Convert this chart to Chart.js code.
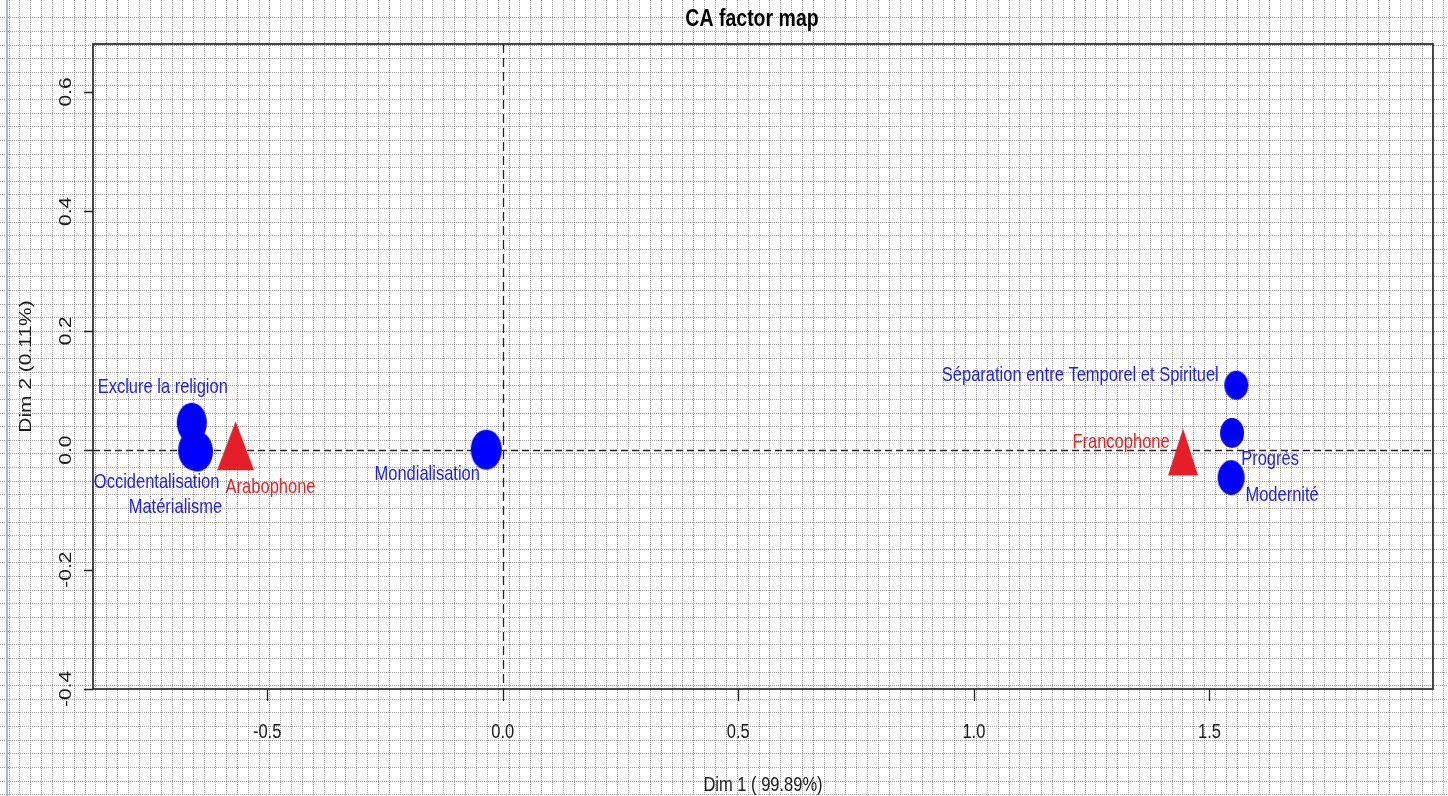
<!DOCTYPE html>
<html>
<head>
<meta charset="utf-8">
<title>CA factor map</title>
<script src="https://cdn.jsdelivr.net/npm/chart.js@4.4.1/dist/chart.umd.min.js"></script>
<style>
  html, body { margin: 0; padding: 0; background: #ffffff; }
  canvas { display: block; }
</style>
</head>
<body>
<canvas id="camap" width="1448" height="796"></canvas>
<script>
// Column profiles (blue circles)
const colNames = ['Exclure la religion', 'Occidentalisation', 'Matérialisme', 'Mondialisation',
                  'Séparation entre Temporel et Spirituel', 'Progrès', 'Modernité'];
const colDim1 = [-0.660, -0.656, -0.648, -0.035, 1.557, 1.548, 1.546];
const colDim2 = [0.046, 0.000, -0.002, 0.001, 0.109, 0.029, -0.046];

// Row profiles (red triangles)
const rowNames = ['Arabophone', 'Francophone'];
const rowDim1 = [-0.567, 1.444];
const rowDim2 = [0.0075, -0.003];

// Axis ticks
const dim1Ticks = [-0.5, 0, 0.5, 1, 1.5];
const dim1TickLabels = ['-0.5', '0.0', '0.5', '1.0', '1.5'];
const dim2Ticks = [-0.4, -0.2, 0, 0.2, 0.4, 0.6];
const dim2TickLabels = ['-0.4', '-0.2', '0.0', '0.2', '0.4', '0.6'];

const titleText = 'CA factor map';
const dim1Title = 'Dim 1 ( 99.89%)';
const dim2Title = 'Dim 2 (0.11%)';

// ---- styling ----
const BLUE = '#0000ff';
const BLUE_TEXT = '#1c1cff';
const RED = '#e61e28';
const RED_TEXT = '#f01e1e';
const SY = 1.27;                 // vertical stretch of glyphs
const FONT = '"Liberation Sans", Arial, sans-serif';

// marker sizes [w, h] in px
const colMarkerSize = [[30, 40], [31, 40], [31, 40], [31, 40], [24, 29], [24, 30], [27, 35]];
const rowMarkerSize = [[37, 49], [30, 47]];
// label anchor offsets from the marker [dx, dy-to-baseline] in px
const colLabelOffset = [[-29, -30], [-37, 38], [-22, 62], [-59, 30], [-156, -4], [38, 32], [51, 23]];
const rowLabelOffset = [[35, 47], [-62, -4]];

function ellipseMarker(w, h, color) {
  const c = document.createElement('canvas');
  c.width = w + 2; c.height = h + 2;
  const g = c.getContext('2d');
  g.fillStyle = color;
  g.beginPath();
  g.ellipse(c.width / 2, c.height / 2, w / 2, h / 2, 0, 0, Math.PI * 2);
  g.fill();
  return c;
}
function triangleMarker(w, h, color) {
  const c = document.createElement('canvas');
  c.width = w + 2; c.height = h + 2;
  const g = c.getContext('2d');
  g.fillStyle = color;
  g.beginPath();
  g.moveTo(c.width / 2, 1);
  g.lineTo(w + 1, h + 1);
  g.lineTo(1, h + 1);
  g.closePath();
  g.fill();
  return c;
}

function stretchedText(ctx, text, x, y, font, color, align, rotate) {
  ctx.save();
  ctx.translate(x, y);
  ctx.scale(1, SY);
  if (rotate) ctx.rotate(-Math.PI / 2);
  ctx.font = font;
  ctx.fillStyle = color;
  ctx.textAlign = align || 'center';
  ctx.textBaseline = 'alphabetic';
  ctx.fillText(text, 0, 0);
  ctx.restore();
}

// graph-paper backdrop over the whole canvas
const paperPlugin = {
  id: 'paper',
  beforeDraw(chart) {
    const ctx = chart.ctx;
    const W = chart.width, H = chart.height;
    ctx.save();
    ctx.fillStyle = '#ffffff';
    ctx.fillRect(0, 0, W, H);
    ctx.lineWidth = 1;
    ctx.strokeStyle = 'rgba(95,95,95,0.6)';
    ctx.setLineDash([1, 1]);
    ctx.beginPath();
    for (let x = 8.5; x < W; x += 10.87) {
      const px = Math.round(x) + 0.5;
      ctx.moveTo(px, 0); ctx.lineTo(px, H);
    }
    for (let y = 17.3; y < H; y += 13.63) {
      const py = Math.round(y) + 0.5;
      ctx.moveTo(0, py); ctx.lineTo(W, py);
    }
    ctx.stroke();
    ctx.setLineDash([]);
    ctx.strokeStyle = '#a9b4cf';
    ctx.lineWidth = 2;
    ctx.beginPath();
    ctx.moveTo(7, 0); ctx.lineTo(7, H);
    ctx.stroke();
    ctx.restore();
  }
};

// box, reference lines, axes, tick labels and titles
const frame = {
  id: 'frame',
  beforeDatasetsDraw(chart) {
    const ctx = chart.ctx;
    const xs = chart.scales.x, ys = chart.scales.y;
    const a = chart.chartArea;
    ctx.save();

    // dashed reference lines through the origin
    ctx.strokeStyle = '#222';
    ctx.lineWidth = 1.3;
    ctx.setLineDash([7, 4]);
    ctx.beginPath();
    const y0 = Math.round(ys.getPixelForValue(0)) + 0.5;
    ctx.moveTo(a.left, y0); ctx.lineTo(a.right, y0);
    ctx.stroke();
    ctx.setLineDash([9, 5]);
    ctx.beginPath();
    const x0 = Math.round(xs.getPixelForValue(0)) + 0.5;
    ctx.moveTo(x0, a.top); ctx.lineTo(x0, a.bottom);
    ctx.stroke();
    ctx.setLineDash([]);

    // plot box
    ctx.strokeStyle = '#333';
    ctx.lineWidth = 1.8;
    ctx.strokeRect(a.left, a.top, a.right - a.left, a.bottom - a.top);

    // ticks
    ctx.strokeStyle = '#222';
    ctx.lineWidth = 1.3;
    ctx.beginPath();
    dim1Ticks.forEach(v => {
      const px = Math.round(xs.getPixelForValue(v)) + 0.5;
      ctx.moveTo(px, a.bottom); ctx.lineTo(px, a.bottom + 12);
    });
    dim2Ticks.forEach(v => {
      const py = Math.round(ys.getPixelForValue(v)) + 0.5;
      ctx.moveTo(a.left, py); ctx.lineTo(a.left - 9, py);
    });
    ctx.stroke();

    const tickFont = '16.5px ' + FONT;
    dim1Ticks.forEach((v, i) => {
      stretchedText(ctx, dim1TickLabels[i], xs.getPixelForValue(v), 737.5, tickFont, '#1a1a1a', 'center');
    });
    dim2Ticks.forEach((v, i) => {
      stretchedText(ctx, dim2TickLabels[i], 70.5, ys.getPixelForValue(v), tickFont, '#1a1a1a', 'center', true);
    });

    // titles
    const midX = (a.left + a.right) / 2, midY = (a.top + a.bottom) / 2;
    stretchedText(ctx, titleText, midX - 11, 26, 'bold 19.5px ' + FONT, '#000', 'center');
    stretchedText(ctx, dim1Title, midX, 791, tickFont, '#1a1a1a', 'center');
    stretchedText(ctx, dim2Title, 31, midY, tickFont, '#1a1a1a', 'center', true);
    ctx.restore();
  },
  afterDatasetsDraw(chart) {
    const ctx = chart.ctx;
    const font = '16.5px ' + FONT;
    chart.data.datasets.forEach((ds, di) => {
      const meta = chart.getDatasetMeta(di);
      meta.data.forEach((pt, i) => {
        const off = ds.labelOffsets[i];
        stretchedText(ctx, ds.names[i], pt.x + off[0], pt.y + off[1], font, ds.textColor, 'center');
      });
    });
  }
};

const colData = colDim1.map((x, i) => ({ x, y: colDim2[i] }));
const rowData = rowDim1.map((x, i) => ({ x, y: rowDim2[i] }));

new Chart(document.getElementById('camap'), {
  type: 'scatter',
  data: {
    datasets: [
      {
        label: 'Columns',
        data: colData,
        names: colNames,
        labelOffsets: colLabelOffset,
        textColor: BLUE_TEXT,
        pointStyle: colMarkerSize.map(s => ellipseMarker(s[0], s[1], BLUE)),
        pointRadius: 15,
        backgroundColor: BLUE,
        borderWidth: 0
      },
      {
        label: 'Rows',
        data: rowData,
        names: rowNames,
        labelOffsets: rowLabelOffset,
        textColor: RED_TEXT,
        pointStyle: rowMarkerSize.map(s => triangleMarker(s[0], s[1], RED)),
        pointRadius: 15,
        backgroundColor: RED,
        borderWidth: 0
      }
    ]
  },
  options: {
    responsive: false,
    devicePixelRatio: 1,
    animation: false,
    layout: { padding: { left: 93, top: 44, right: 14, bottom: 107 } },
    scales: {
      x: { type: 'linear', min: -0.8696, max: 1.9745, display: false },
      y: { type: 'linear', min: -0.4, max: 0.6804, display: false }
    },
    plugins: {
      legend: { display: false },
      tooltip: { enabled: false },
      title: { display: false }
    },
    clip: false
  },
  plugins: [paperPlugin, frame]
});
</script>
</body>
</html>
